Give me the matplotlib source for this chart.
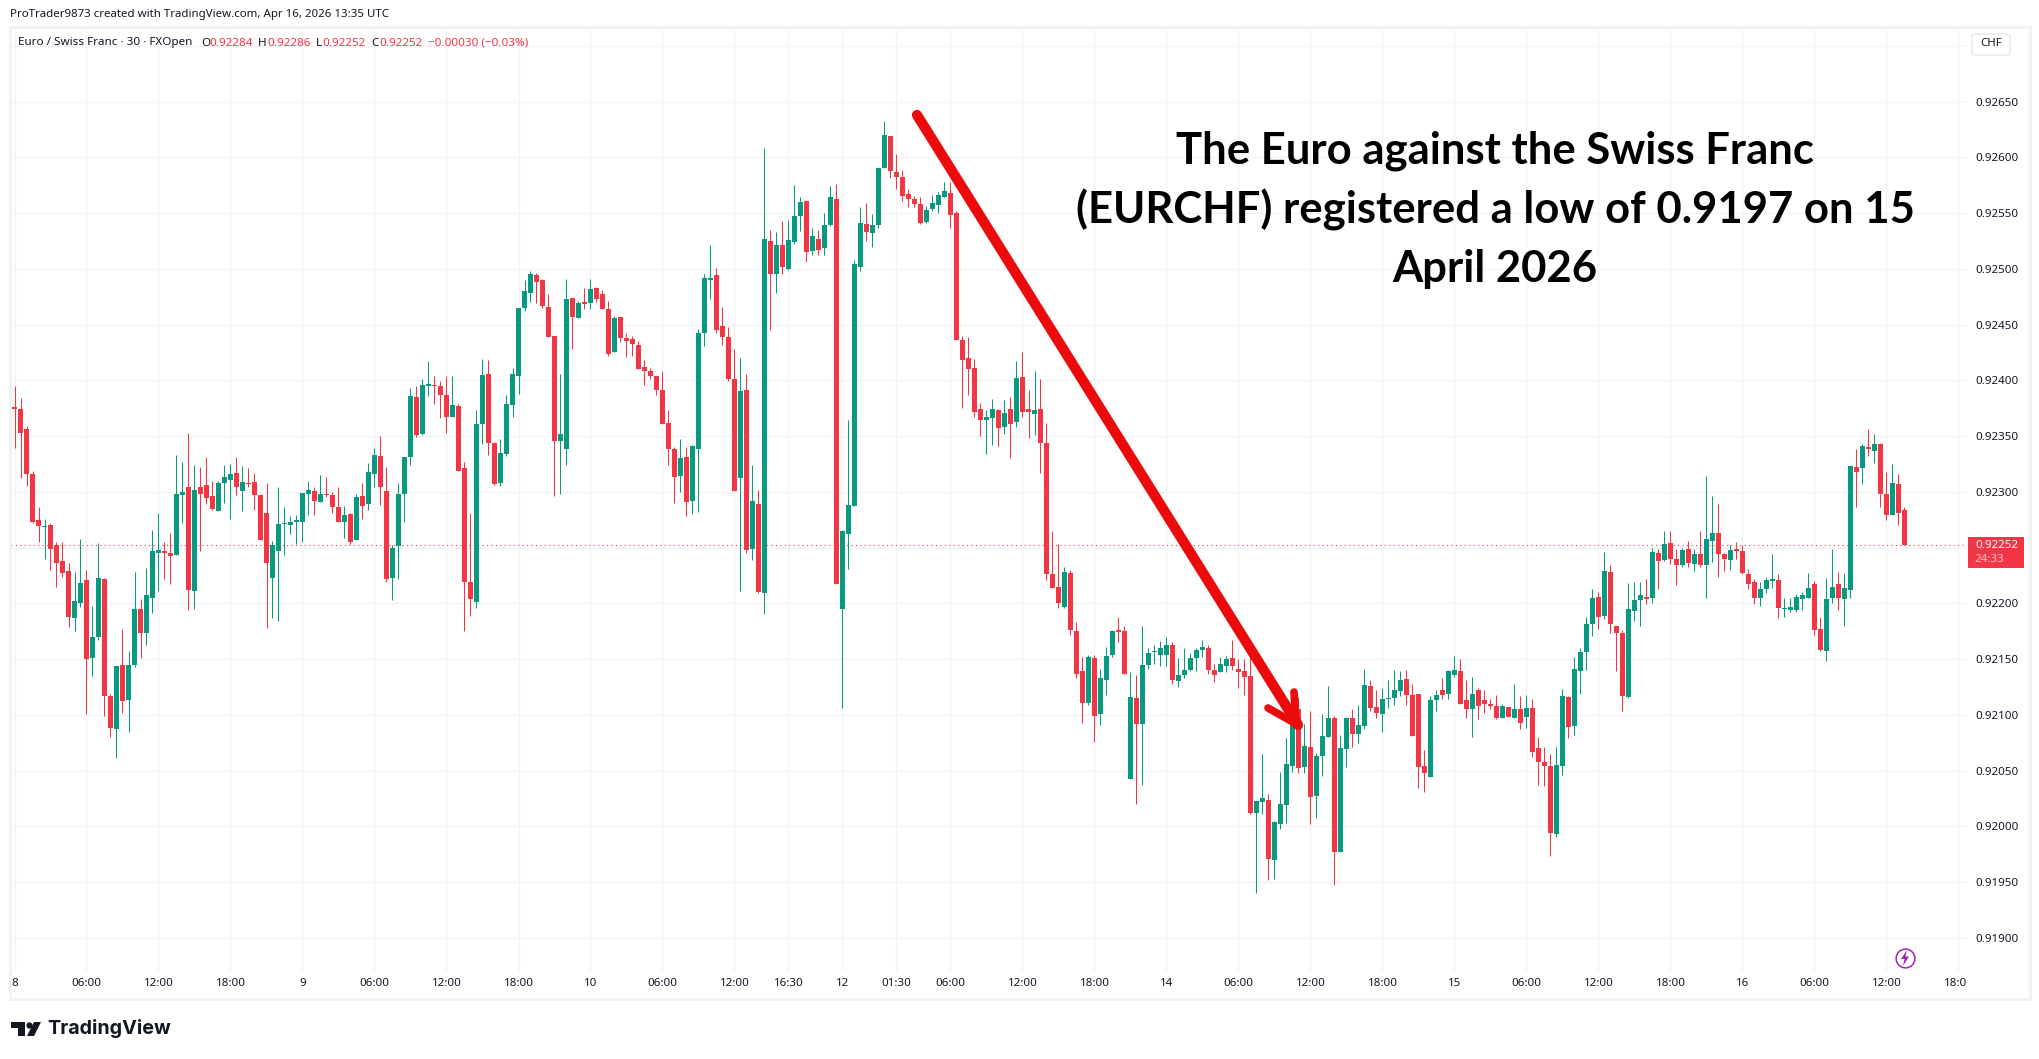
import numpy as np
import matplotlib
matplotlib.use('Agg')
import matplotlib.pyplot as plt
from matplotlib.lines import Line2D
from matplotlib.patches import Rectangle, Polygon, FancyBboxPatch
from matplotlib.transforms import Bbox

W = 2039
H = 1059

# prices in points (0.00001 CHF), one candle per 30 min
opens = [
    92376,92374,92356,92316,92275,92268,92270,92252,92238,92229,
    92187,92200,92221,92151,92170,92222,92117,92087,92145,92113,
    92145,92195,92173,92205,92245,92247,92245,92243,92297,92304,
    92211,92304,92306,92296,92283,92308,92311,92317,92301,92308,
    92309,92297,92281,92223,92247,92271,92270,92273,92273,92298,
    92301,92291,92298,92297,92286,92273,92280,92257,92296,92289,
    92316,92332,92301,92223,92251,92298,92331,92385,92352,92395,
    92396,92395,92387,92367,92377,92321,92219,92201,92361,92406,
    92344,92308,92334,92378,92404,92465,92478,92494,92490,92466,
    92440,92346,92338,92474,92456,92470,92469,92483,92477,92464,
    92425,92457,92438,92437,92432,92412,92408,92404,92391,92362,
    92338,92314,92331,92292,92338,92442,92490,92494,92449,92439,
    92401,92312,92391,92249,92289,92209,92525,92495,92521,92500,
    92524,92547,92561,92516,92527,92519,92539,92563,92195,92262,
    92287,92502,92540,92532,92539,92590,92619,92587,92582,92567,
    92563,92558,92542,92554,92557,92564,92568,92550,92436,92420,
    92411,92374,92364,92366,92373,92358,92374,92363,92403,92374,
    92370,92374,92344,92226,92215,92197,92227,92175,92139,92111,
    92151,92101,92131,92154,92176,92175,92042,92115,92092,92145,
    92156,92154,92154,92163,92130,92136,92140,92151,92158,92160,
    92140,92138,92144,92151,92141,92139,92135,92012,92022,92024,
    91970,92002,92019,92054,92105,92053,92071,92027,92063,92080,
    92097,91977,92069,92097,92083,92090,92126,92107,92101,92114,
    92115,92121,92132,92118,92119,92054,92044,92113,92122,92119,
    92136,92139,92113,92105,92122,92113,92110,92108,92097,92107,
    92097,92105,92098,92106,92070,92058,92054,91993,92054,92116,
    92090,92139,92156,92181,92206,92189,92228,92180,92173,92116,
    92193,92203,92206,92205,92245,92239,92254,92240,92234,92249,
    92235,92244,92234,92256,92263,92244,92239,92249,92247,92226,
    92219,92205,92213,92220,92221,92195,92194,92194,92204,92205,
    92217,92177,92157,92205,92217,92204,92212,92322,92321,92340,
    92337,92343,92298,92279,92307,92284]
highs = [
    92395,92384,92359,92319,92286,92276,92272,92255,92255,92236,
    92228,92258,92230,92198,92254,92223,92119,92144,92177,92157,
    92228,92204,92232,92266,92281,92255,92263,92333,92327,92353,
    92324,92322,92331,92310,92310,92324,92325,92331,92323,92321,
    92317,92298,92308,92256,92304,92286,92278,92279,92299,92310,
    92304,92315,92313,92300,92304,92287,92281,92298,92308,92326,
    92339,92350,92322,92252,92308,92331,92393,92395,92401,92417,
    92404,92399,92404,92404,92379,92327,92281,92373,92419,92418,
    92345,92347,92387,92411,92465,92490,92498,92496,92491,92477,
    92440,92406,92491,92474,92471,92483,92491,92484,92481,92471,
    92458,92457,92442,92440,92435,92418,92411,92404,92408,92373,
    92340,92347,92340,92342,92446,92495,92521,92501,92466,92448,
    92428,92420,92406,92324,92302,92608,92535,92533,92543,92544,
    92575,92564,92561,92537,92535,92550,92574,92576,92266,92364,
    92508,92555,92559,92549,92591,92633,92619,92603,92589,92572,
    92565,92564,92556,92566,92569,92578,92578,92552,92440,92439,
    92419,92380,92373,92383,92374,92382,92385,92417,92425,92391,
    92408,92401,92362,92265,92253,92233,92230,92183,92152,92154,
    92154,92141,92161,92176,92188,92180,92138,92136,92180,92160,
    92163,92166,92170,92165,92151,92160,92155,92160,92167,92163,
    92146,92152,92153,92167,92150,92150,92155,92023,92065,92029,
    92005,92049,92079,92096,92116,92092,92103,92066,92101,92126,
    92099,92082,92098,92105,92109,92141,92131,92122,92124,92131,
    92140,92139,92140,92128,92119,92068,92117,92122,92133,92140,
    92153,92150,92131,92134,92124,92122,92114,92118,92110,92107,
    92128,92117,92118,92114,92080,92071,92065,92071,92123,92117,
    92152,92160,92188,92213,92210,92246,92234,92180,92176,92218,
    92219,92219,92222,92250,92249,92265,92265,92249,92250,92256,
    92249,92265,92314,92296,92289,92245,92252,92255,92252,92231,
    92222,92219,92224,92244,92226,92205,92205,92208,92210,92227,
    92220,92188,92223,92249,92228,92227,92323,92338,92343,92356,
    92352,92344,92318,92325,92316,92286]
lows = [
    92339,92312,92305,92272,92255,92240,92230,92215,92224,92179,
    92175,92197,92101,92135,92167,92099,92080,92061,92102,92085,
    92143,92151,92163,92191,92211,92222,92217,92243,92272,92194,
    92195,92247,92289,92284,92283,92290,92276,92297,92283,92304,
    92284,92257,92178,92187,92184,92243,92262,92253,92255,92279,
    92279,92291,92295,92281,92273,92259,92253,92257,92276,92284,
    92304,92288,92219,92203,92222,92273,92324,92349,92351,92386,
    92379,92366,92353,92367,92319,92175,92189,92196,92343,92333,
    92306,92305,92332,92367,92388,92462,92470,92469,92465,92439,
    92296,92298,92324,92428,92456,92464,92464,92470,92464,92422,
    92425,92434,92421,92422,92410,92396,92401,92387,92361,92324,
    92290,92300,92278,92280,92282,92431,92473,92442,92432,92399,
    92301,92211,92245,92239,92209,92190,92445,92478,92495,92499,
    92522,92534,92506,92512,92512,92512,92538,92217,92106,92231,
    92287,92498,92525,92520,92537,92590,92581,92572,92561,92555,
    92555,92540,92541,92552,92550,92564,92537,92436,92375,92387,
    92367,92350,92334,92342,92341,92352,92330,92358,92367,92348,
    92351,92317,92221,92214,92196,92196,92172,92133,92093,92109,
    92076,92091,92118,92152,92165,92137,92042,92020,92037,92141,
    92146,92144,92144,92128,92125,92133,92139,92139,92152,92137,
    92129,92138,92138,92140,92124,92118,92011,91940,92011,91952,
    91953,91998,92003,92049,92048,92048,92002,92007,92045,92080,
    91947,91977,92053,92071,92075,92087,92103,92097,92085,92106,
    92109,92117,92109,92081,92034,92031,92044,92103,92114,92114,
    92134,92110,92097,92080,92096,92102,92105,92096,92097,92098,
    92097,92087,92088,92062,92037,92036,91973,91990,92046,92079,
    92082,92119,92140,92171,92177,92186,92173,92139,92103,92115,
    92184,92180,92199,92200,92213,92238,92235,92216,92233,92233,
    92229,92233,92205,92237,92224,92229,92230,92240,92226,92213,
    92199,92198,92209,92214,92187,92188,92192,92192,92194,92205,
    92172,92157,92148,92200,92194,92180,92205,92286,92307,92332,
    92326,92286,92275,92279,92270,92252]
closes = [
    92374,92353,92316,92273,92269,92269,92249,92236,92227,92188,
    92202,92218,92150,92170,92223,92117,92088,92144,92112,92145,
    92195,92173,92207,92247,92248,92245,92242,92298,92300,92212,
    92302,92298,92294,92285,92308,92313,92316,92304,92309,92307,
    92297,92257,92236,92252,92271,92272,92273,92275,92299,92302,
    92292,92298,92297,92286,92273,92279,92255,92295,92287,92318,
    92333,92304,92222,92250,92298,92331,92386,92351,92396,92397,
    92395,92387,92367,92378,92319,92219,92204,92361,92405,92344,
    92307,92335,92379,92406,92465,92480,92495,92488,92467,92439,
    92346,92352,92473,92457,92469,92468,92482,92473,92464,92424,
    92456,92438,92435,92433,92410,92408,92404,92391,92361,92338,
    92313,92330,92291,92341,92442,92492,92492,92445,92439,92401,
    92301,92390,92248,92292,92210,92527,92495,92521,92502,92526,
    92547,92560,92515,92529,92517,92539,92564,92217,92265,92288,
    92504,92541,92533,92539,92590,92620,92588,92582,92565,92563,
    92558,92541,92553,92559,92566,92570,92548,92436,92418,92410,
    92372,92364,92367,92374,92357,92371,92361,92402,92372,92372,
    92373,92344,92226,92214,92200,92228,92176,92137,92111,92152,
    92099,92133,92153,92175,92174,92137,92116,92092,92145,92155,
    92157,92160,92163,92131,92136,92140,92151,92158,92161,92140,
    92136,92146,92150,92144,92138,92134,92012,92023,92025,91971,
    92004,92020,92056,92093,92052,92072,92026,92063,92081,92097,
    91977,92070,92097,92083,92091,92127,92106,92102,92114,92115,
    92122,92131,92118,92081,92053,92048,92113,92118,92118,92139,
    92140,92110,92105,92119,92108,92110,92108,92097,92108,92098,
    92105,92093,92106,92067,92058,92054,91994,92055,92117,92089,
    92141,92156,92181,92205,92188,92229,92181,92173,92117,92195,
    92203,92207,92204,92246,92238,92253,92240,92234,92248,92236,
    92244,92234,92258,92263,92244,92240,92248,92247,92227,92217,
    92205,92213,92221,92222,92196,92196,92197,92206,92207,92214,
    92176,92158,92204,92215,92205,92214,92323,92318,92341,92338,
    92343,92298,92279,92308,92281,92252]

x_tick_pos = [0,12,24,36,48,60,72,84,96,108,120,129,138,147,156,168,180,192,
              204,216,228,240,252,264,276,288,300,312,324]
x_tick_labels = ['8','06:00','12:00','18:00','9','06:00','12:00','18:00','10','06:00','12:00',
                 '16:30','12','01:30','06:00','12:00','18:00','14','06:00','12:00','18:00',
                 '15','06:00','12:00','18:00','16','06:00','12:00','18:00']
y_ticks = [0.919,0.9195,0.92,0.9205,0.921,0.9215,0.922,0.9225,0.923,0.9235,0.924,0.9245,
           0.925,0.9255,0.926,0.9265,0.927]
y_tick_labels = ['0.91900','0.91950','0.92000','0.92050','0.92100','0.92150','0.92200','0.92250',
                 '0.92300','0.92350','0.92400','0.92450','0.92500','0.92550','0.92600','0.92650','']

last_price = 0.92252
title_lines = ['The Euro against the Swiss Franc', '(EURCHF) registered a low of 0.9197 on 15', 'April 2026']

RED = '#F23645'
GREEN = '#089981'
GRID = '#F2F3F6'
FRAME = '#F0F1F3'
TEXT = '#131722'
FONT = 'Noto Sans'

o = np.array(opens) / 1e5
h = np.array(highs) / 1e5
l = np.array(lows) / 1e5
c = np.array(closes) / 1e5
x = np.arange(len(o))
colors = [GREEN if c[i] >= o[i] else RED for i in x]


def fx(px):
    return px / W


def fy(py):
    return 1 - py / H


def put(px, py, s, **kw):
    kw.setdefault('family', FONT)
    kw.setdefault('color', TEXT)
    kw.setdefault('va', 'center')
    return fig.text(fx(px), fy(py), s, **kw)


fig = plt.figure(figsize=(W / 100, H / 100), dpi=100, facecolor='white')

# pane runs 11..1967 px across, 30..971 px down; candles are 6 px apart
left, right, top, bottom = 11, 1967, 30, 971
ax = fig.add_axes([fx(left), fy(bottom), (right - left) / W, (bottom - top) / H])
ax.set_xlim((left - 14.5) / 6, (right - 14.5) / 6)
ax.set_ylim(0.922 - (bottom - 603.3) / 111500, 0.922 + (603.3 - top) / 111500)

ax.set_axisbelow(True)
ax.grid(True, color=GRID, lw=1.0)
ax.set_xticks(x_tick_pos, x_tick_labels)
ax.yaxis.tick_right()
ax.set_yticks(y_ticks, y_tick_labels)
ax.tick_params(axis='both', length=0, labelsize=8.3, labelcolor=TEXT)
ax.tick_params(axis='y', pad=6)
ax.tick_params(axis='x', pad=5)
for lab in ax.get_xticklabels() + ax.get_yticklabels():
    lab.set_family(FONT)
for lab in ax.get_xticklabels():
    lab.set_clip_box(Bbox([[0, 0], [right, H]]))
    lab.set_clip_on(True)
for s in ax.spines.values():
    s.set_visible(False)

ax.axhline(last_price, color=RED, lw=0.8, ls=(0, (1, 3)), zorder=1)
ax.vlines(x, l, h, colors=colors, lw=0.75, zorder=2)
ax.bar(x, np.abs(c - o), bottom=np.minimum(o, c), width=5 / 6, color=colors, lw=0, zorder=3)

# outer frame
fig.add_artist(Rectangle((fx(10), fy(999)), (2030 - 10) / W, (999 - 27) / H, transform=fig.transFigure,
                         fill=False, edgecolor=FRAME, lw=2))

# header and legend row
put(10, 15, 'ProTrader9873 created with TradingView.com, Apr 16, 2026 13:35 UTC', fontsize=8.25)
put(18, 43, 'Euro / Swiss Franc · 30 · FXOpen', fontsize=8.4)
for px, s in [(201, 'O'), (258, 'H'), (316, 'L'), (371, 'C')]:
    put(px, 43, s, fontsize=8.4)
for px, s in [(209, '0.92284'), (267, '0.92286'), (322, '0.92252'), (379, '0.92252'),
              (428, '−0.00030 (−0.03%)')]:
    put(px, 43, s, fontsize=8.4, color=RED)

# currency button
fig.add_artist(FancyBboxPatch((fx(1972), fy(55)), 38 / W, 21 / H, transform=fig.transFigure,
                              boxstyle='round,pad=0,rounding_size=0.002', facecolor='white',
                              edgecolor='#E6E8EC', lw=1))
put(1991, 44, 'CHF', fontsize=8.2, ha='center')

# last price tag
fig.add_artist(Rectangle((fx(1968), fy(568)), 56 / W, 31 / H, transform=fig.transFigure,
                         facecolor=RED, edgecolor='none'))
put(1997, 546, '0.92252', fontsize=8.3, color='white', ha='center', fontweight='bold')
put(1989, 559, '24:33', fontsize=8.3, color='#FBC4CA', ha='center')

# arrow and its head, in figure pixels
ARROW = '#EC0B0B'
fig.add_artist(Line2D([fx(917), fx(1298)], [fy(115), fy(725)], transform=fig.transFigure, color=ARROW,
                      lw=7.4, solid_capstyle='round'))
fig.add_artist(Line2D([fx(1294), fx(1296)], [fy(692), fy(725)], transform=fig.transFigure, color=ARROW,
                      lw=5.5, solid_capstyle='round'))
fig.add_artist(Line2D([fx(1268), fx(1298)], [fy(708), fy(725)], transform=fig.transFigure, color=ARROW,
                      lw=5.5, solid_capstyle='round'))

for py, s in zip([151, 210, 269], title_lines):
    put(1495, py, s, family='Lato', fontweight='bold', fontsize=31.4, color='black', ha='center')

# lightning badge
BADGE = '#9C27B0'
fig.add_artist(Line2D([fx(1905)], [fy(958)], transform=fig.transFigure, marker='o', ms=13.5, mfc='white',
                      mec=BADGE, mew=1.1, ls='none'))
bolt_px = [(1907, 950), (1901, 959), (1904.5, 959), (1903, 966), (1909, 956.5), (1905.5, 956.5)]
fig.add_artist(Polygon([(fx(a), fy(b)) for a, b in bolt_px], closed=True, transform=fig.transFigure,
                       facecolor=BADGE, edgecolor='none', zorder=4))

# TradingView logo
LOGO = '#131722'
fig.add_artist(Polygon([(fx(11), fy(1022)), (fx(25), fy(1022)), (fx(25), fy(1036)), (fx(18), fy(1036)),
                        (fx(18), fy(1028)), (fx(11), fy(1028))], closed=True, transform=fig.transFigure,
                       facecolor=LOGO, edgecolor='none'))
fig.add_artist(Line2D([fx(29)], [fy(1025)], transform=fig.transFigure, marker='o', ms=4.5, mfc=LOGO,
                      mec='none', ls='none'))
fig.add_artist(Polygon([(fx(34), fy(1022)), (fx(41), fy(1022)), (fx(34), fy(1036)), (fx(27), fy(1036))],
                       closed=True, transform=fig.transFigure, facecolor=LOGO, edgecolor='none'))
put(47, 1029, 'TradingView', family='Inter', fontweight='bold', fontsize=14.2, color=LOGO)

fig.savefig('out.png', dpi=100)
